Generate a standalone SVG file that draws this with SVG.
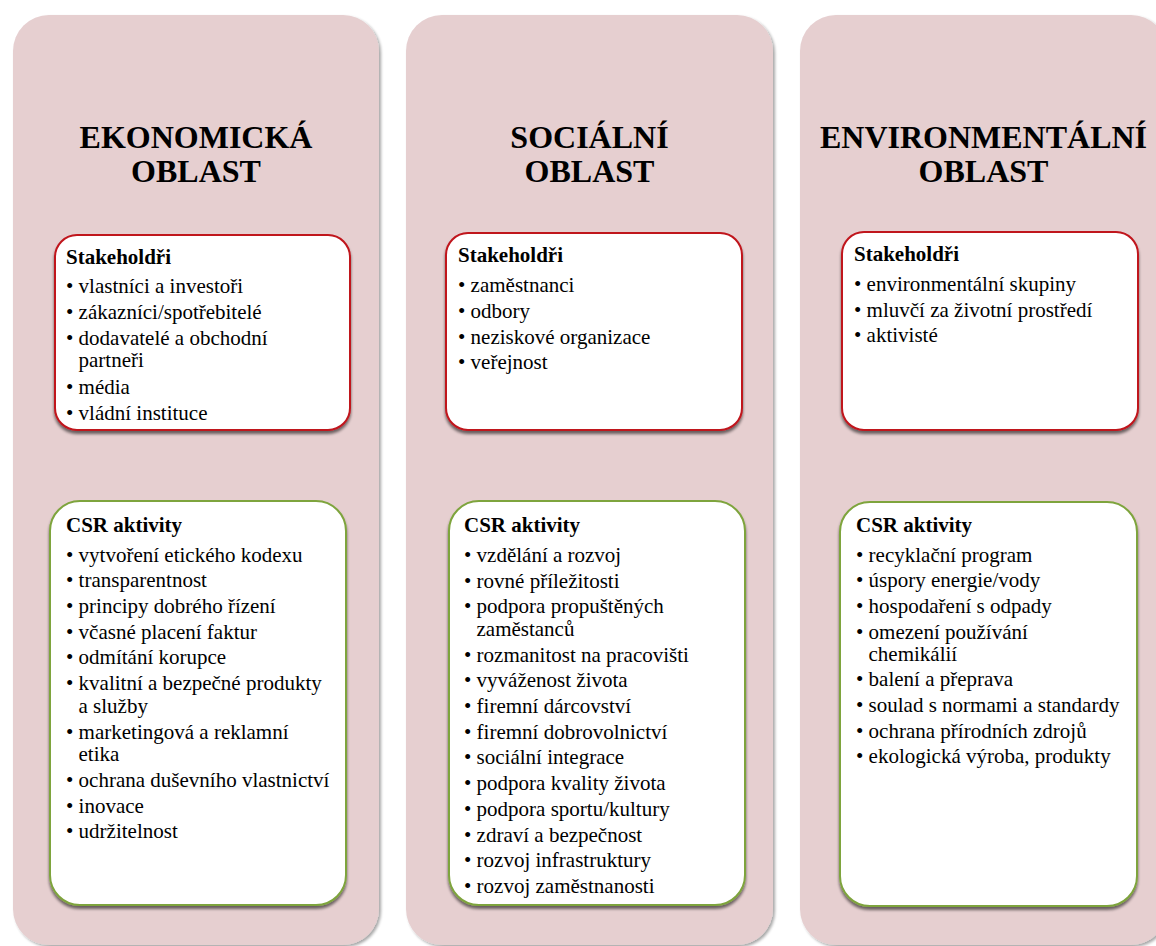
<svg xmlns="http://www.w3.org/2000/svg" width="1156" height="946" viewBox="0 0 1156 946">
<style>
  text { font-family: "Liberation Serif", "Times New Roman", serif; fill: #000; }
  .title { font-size: 32px; font-weight: bold; text-anchor: middle; }
  .head { font-size: 21px; font-weight: bold; }
  .item { font-size: 21px; }
  .col { fill: #E6CFD0; filter: url(#colShadow); }
  .stake { fill: #FFFFFF; stroke: #C0141C; stroke-width: 2; filter: url(#boxShadow); }
  .csr { fill: #FFFFFF; stroke: #7EA43C; stroke-width: 2; filter: url(#boxShadow); }
</style>
<defs>
  <filter id="colShadow" x="-5%" y="-5%" width="110%" height="110%">
    <feGaussianBlur in="SourceAlpha" stdDeviation="1.5"/>
    <feOffset dx="2" dy="2" result="b"/>
    <feComponentTransfer><feFuncA type="linear" slope="0.35"/></feComponentTransfer>
    <feMerge><feMergeNode/><feMergeNode in="SourceGraphic"/></feMerge>
  </filter>
  <filter id="boxShadow" x="-5%" y="-5%" width="110%" height="112%">
    <feGaussianBlur in="SourceAlpha" stdDeviation="1.8"/>
    <feOffset dx="0" dy="3" result="b"/>
    <feComponentTransfer><feFuncA type="linear" slope="0.55"/></feComponentTransfer>
    <feMerge><feMergeNode/><feMergeNode in="SourceGraphic"/></feMerge>
  </filter>
</defs>
<rect width="1156" height="946" fill="#FFFFFF"/>

<g id="col-ekonomicka">
  <rect class="col" x="13" y="15" width="366" height="930" rx="36"/>
  <text class="title" x="196" y="148">EKONOMICKÁ</text>
  <text class="title" x="196" y="182">OBLAST</text>
</g>
<g id="col-socialni">
  <rect class="col" x="406" y="15" width="367" height="930" rx="36"/>
  <text class="title" x="589.5" y="148">SOCIÁLNÍ</text>
  <text class="title" x="589.5" y="182">OBLAST</text>
</g>
<g id="col-environmentalni">
  <rect class="col" x="800" y="15" width="367" height="930" rx="36"/>
  <text class="title" x="983.5" y="148">ENVIRONMENTÁLNÍ</text>
  <text class="title" x="983.5" y="182">OBLAST</text>
</g>

<g id="stake-ekonomicka">
  <rect class="stake" x="55" y="235" width="295" height="195" rx="22"/>
  <text class="head" x="66" y="264">Stakeholdři</text>
  <text class="item" x="66" y="293">• vlastníci a investoři</text>
  <text class="item" x="66" y="319">• zákazníci/spotřebitelé</text>
  <text class="item" x="66" y="345">• dodavatelé a obchodní</text>
  <text class="item" x="78.5" y="367">partneři</text>
  <text class="item" x="66" y="393.5">• média</text>
  <text class="item" x="66" y="419.5">• vládní instituce</text>
</g>
<g id="stake-socialni">
  <rect class="stake" x="446" y="233" width="296" height="197" rx="22"/>
  <text class="head" x="458" y="262">Stakeholdři</text>
  <text class="item" x="458" y="292">• zaměstnanci</text>
  <text class="item" x="458" y="318">• odbory</text>
  <text class="item" x="458" y="343.5">• neziskové organizace</text>
  <text class="item" x="458" y="369">• veřejnost</text>
</g>
<g id="stake-environmentalni">
  <rect class="stake" x="842" y="232" width="296" height="198" rx="22"/>
  <text class="head" x="854" y="261">Stakeholdři</text>
  <text class="item" x="854" y="290.5">• environmentální skupiny</text>
  <text class="item" x="854" y="316.5">• mluvčí za životní prostředí</text>
  <text class="item" x="854" y="342">• aktivisté</text>
</g>

<g id="csr-ekonomicka">
  <rect class="csr" x="50" y="501" width="296" height="404" rx="30"/>
  <text class="head" x="66" y="531.5">CSR aktivity</text>
  <text class="item" x="66" y="561.5">• vytvoření etického kodexu</text>
  <text class="item" x="66" y="587.2">• transparentnost</text>
  <text class="item" x="66" y="612.9">• principy dobrého řízení</text>
  <text class="item" x="66" y="638.6">• včasné placení faktur</text>
  <text class="item" x="66" y="664.3">• odmítání korupce</text>
  <text class="item" x="66" y="690">• kvalitní a bezpečné produkty</text>
  <text class="item" x="78.5" y="712.5">a služby</text>
  <text class="item" x="66" y="738.5">• marketingová a reklamní</text>
  <text class="item" x="78.5" y="761">etika</text>
  <text class="item" x="66" y="787">• ochrana duševního vlastnictví</text>
  <text class="item" x="66" y="812.7">• inovace</text>
  <text class="item" x="66" y="838.4">• udržitelnost</text>
</g>
<g id="csr-socialni">
  <rect class="csr" x="449" y="501" width="296" height="404" rx="30"/>
  <text class="head" x="464" y="531.5">CSR aktivity</text>
  <text class="item" x="464" y="561.5">• vzdělání a rozvoj</text>
  <text class="item" x="464" y="587.5">• rovné příležitosti</text>
  <text class="item" x="464" y="613.3">• podpora propuštěných</text>
  <text class="item" x="476.5" y="635.5">zaměstanců</text>
  <text class="item" x="464" y="661.5">• rozmanitost na pracovišti</text>
  <text class="item" x="464" y="687.3">• vyváženost života</text>
  <text class="item" x="464" y="713">• firemní dárcovství</text>
  <text class="item" x="464" y="738.7">• firemní dobrovolnictví</text>
  <text class="item" x="464" y="764.4">• sociální integrace</text>
  <text class="item" x="464" y="790.1">• podpora kvality života</text>
  <text class="item" x="464" y="815.8">• podpora sportu/kultury</text>
  <text class="item" x="464" y="841.5">• zdraví a bezpečnost</text>
  <text class="item" x="464" y="867.2">• rozvoj infrastruktury</text>
  <text class="item" x="464" y="893">• rozvoj zaměstnanosti</text>
</g>
<g id="csr-environmentalni">
  <rect class="csr" x="840" y="502" width="297" height="404" rx="30"/>
  <text class="head" x="856" y="531.5">CSR aktivity</text>
  <text class="item" x="856" y="561.5">• recyklační program</text>
  <text class="item" x="856" y="587.2">• úspory energie/vody</text>
  <text class="item" x="856" y="612.9">• hospodaření s odpady</text>
  <text class="item" x="856" y="638.6">• omezení používání</text>
  <text class="item" x="868.5" y="660.6">chemikálií</text>
  <text class="item" x="856" y="686.3">• balení a přeprava</text>
  <text class="item" x="856" y="712">• soulad s normami a standardy</text>
  <text class="item" x="856" y="737.7">• ochrana přírodních zdrojů</text>
  <text class="item" x="856" y="763.4">• ekologická výroba, produkty</text>
</g>

<g id="connectors"></g>
</svg>
